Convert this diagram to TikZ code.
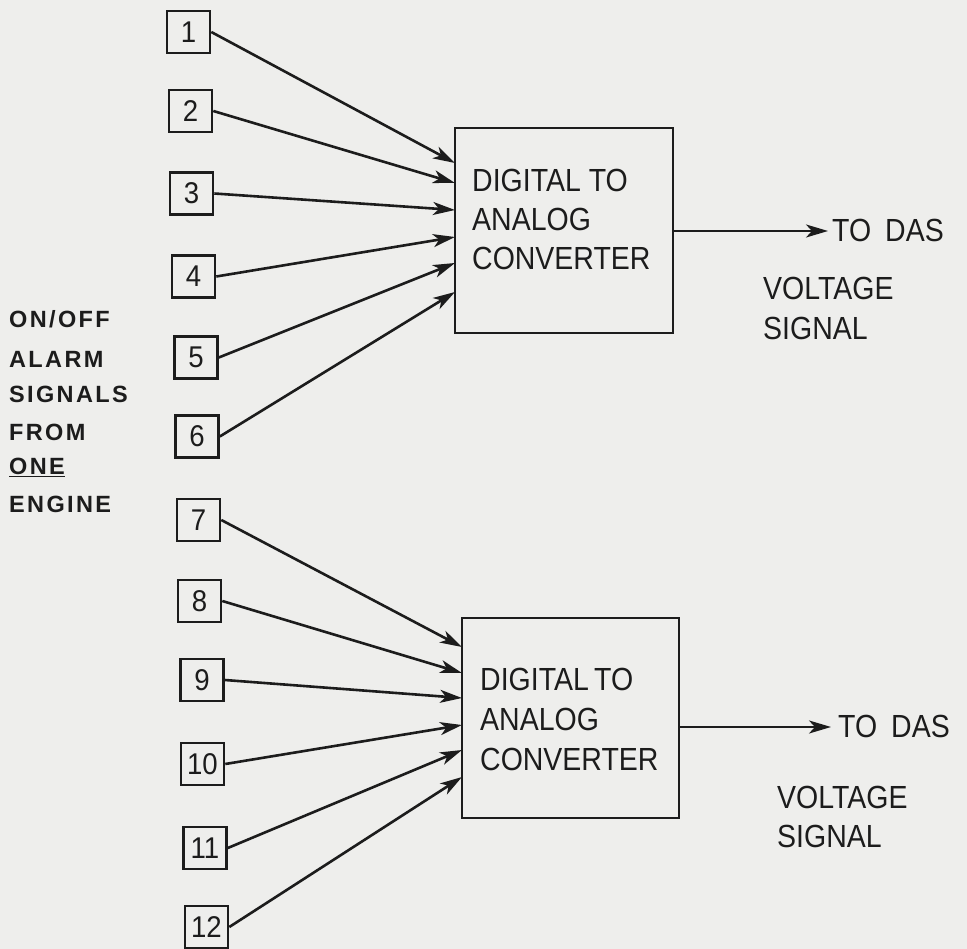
\documentclass[tikz,border=0pt]{standalone}
\usepackage{fontspec}
\setmainfont{Liberation Sans}
\usetikzlibrary{arrows.meta}
\definecolor{paper}{RGB}{238,238,236}
\definecolor{ink}{RGB}{28,28,28}
\begin{document}
\begin{tikzpicture}[x=1pt,y=-1pt,
  signalbox/.style={draw=ink, line width=2.6pt, minimum width=43pt, minimum height=42pt,
    inner sep=0pt, font=\fontsize{30}{30}\selectfont\addfontfeatures{FakeStretch=0.92}, text=ink},
  dacbox/.style={draw=ink, line width=2.8pt, inner sep=0pt},
  lbl/.style={anchor=base west, inner sep=0pt,
    font=\fontsize{32}{32}\selectfont\addfontfeatures{FakeStretch=0.89}, text=ink},
  side/.style={anchor=base west, inner sep=0pt,
    font=\fontsize{23.5}{23.5}\selectfont\bfseries\addfontfeatures{LetterSpace=10}, text=ink},
  feed/.style={draw=ink, line width=2.6pt, -{Stealth[length=22pt,width=13pt,inset=6pt]}}
]
% paper
\fill[paper] (0,0) rectangle (967,949);
\useasboundingbox (0,0) rectangle (967,949);

% converters
\node[dacbox, minimum width=218pt, minimum height=205pt] (dac1) at (564,230.5) {};
\node[dacbox, minimum width=217pt, minimum height=200pt] (dac2) at (570.5,718) {};

\node[lbl] (d1a) at (472,192) {DIGITAL TO};
\node[lbl] (d1b) at (472,231) {ANALOG};
\node[lbl] (d1c) at (472,270) {CONVERTER};
\node[lbl] (d2a) at (480,690) {DIGITAL\,TO};
\node[lbl] (d2b) at (480,730) {ANALOG};
\node[lbl] (d2c) at (480,770) {CONVERTER};

% alarm inputs
\node[signalbox] (s1)  at (188.5,32)  {1};
\node[signalbox] (s2)  at (190.5,111) {2};
\node[signalbox] (s3)  at (191.5,193.5) {3};
\node[signalbox] (s4)  at (193.5,276.5) {4};
\node[signalbox] (s5)  at (196,357.5) {5};
\node[signalbox] (s6)  at (197,436.5) {6};
\node[signalbox] (s7)  at (198.5,520) {7};
\node[signalbox] (s8)  at (199.5,601) {8};
\node[signalbox] (s9)  at (202,680)   {9};
\node[signalbox] (s10) at (202.5,764) {10};
\node[signalbox] (s11) at (205,848)   {11};
\node[signalbox] (s12) at (206.5,927) {12};

% entry points on the converter edges
\coordinate (e1)  at (455,163);
\coordinate (e2)  at (455,183);
\coordinate (e3)  at (455,210);
\coordinate (e4)  at (455,237);
\coordinate (e5)  at (455,263);
\coordinate (e6)  at (455,292);
\coordinate (e7)  at (462,647);
\coordinate (e8)  at (462,673);
\coordinate (e9)  at (462,698);
\coordinate (e10) at (462,725);
\coordinate (e11) at (462,750);
\coordinate (e12) at (462,777);

\foreach \i in {1,...,12} {
  \draw[feed] (s\i.east) -- (e\i);
}

% outputs
\coordinate (o1) at (828,231);
\coordinate (o2) at (831,727);
\draw[feed] (dac1.east |- o1) -- (o1);
\draw[feed] (dac2.east |- o2) -- (o2);

\node[lbl] (das1) at (832,242) {TO\hspace{14pt}DAS};
\node[lbl] (das2) at (838,737) {TO\hspace{14pt}DAS};
\node[lbl] (v1a) at (763,300) {VOLTAGE};
\node[lbl] (v1b) at (763,340) {SIGNAL};
\node[lbl] (v2a) at (777,808) {VOLTAGE};
\node[lbl] (v2b) at (777,847) {SIGNAL};

% side caption
\node[side] (c1) at (9,328) {ON/OFF};
\node[side] (c2) at (9,368) {ALARM};
\node[side] (c3) at (9,403) {SIGNALS};
\node[side] (c4) at (9,441) {FROM};
\node[side] (c5) at (9,475) {\underline{ONE}};
\node[side] (c6) at (9,512) {ENGINE};
\end{tikzpicture}
\end{document}
